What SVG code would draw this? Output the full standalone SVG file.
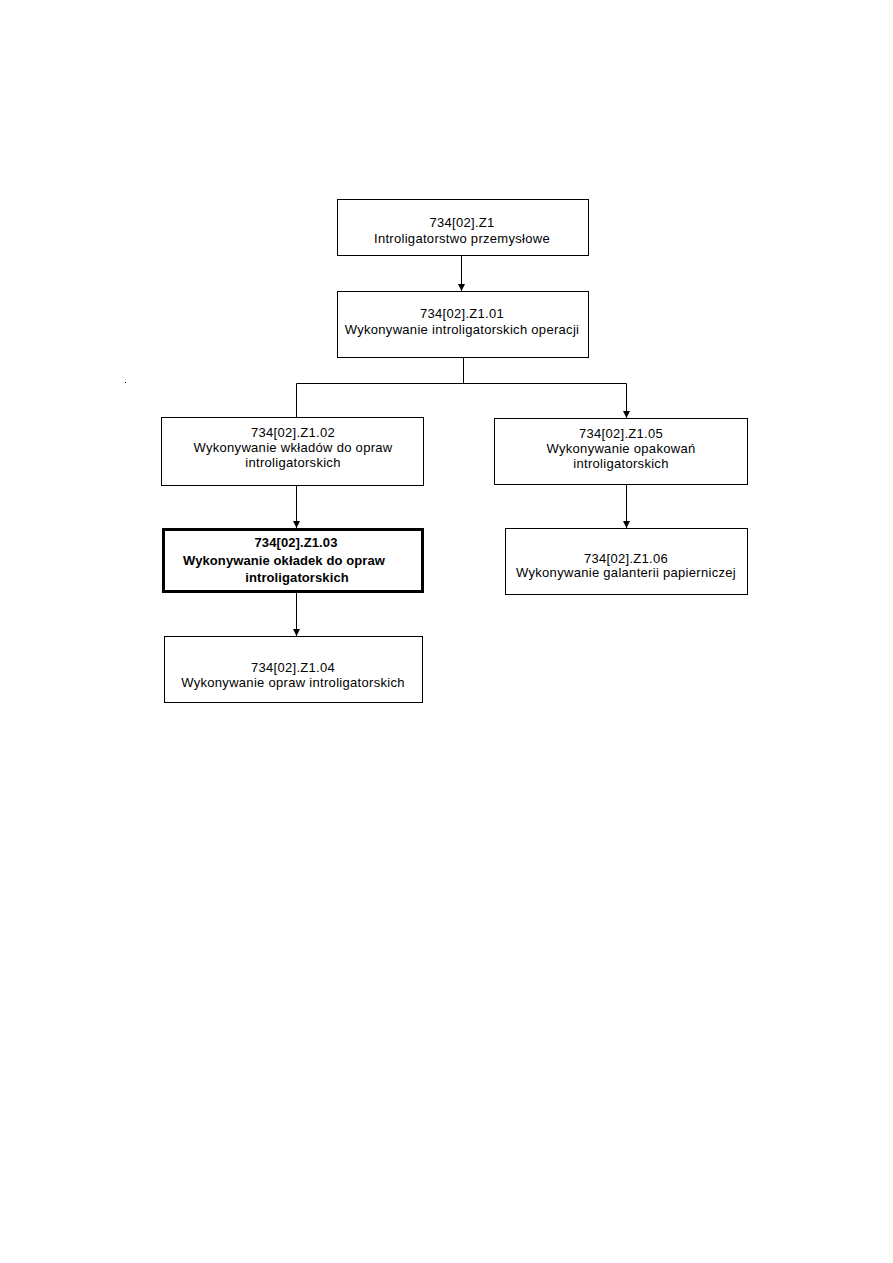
<svg xmlns="http://www.w3.org/2000/svg" width="893" height="1263" viewBox="0 0 893 1263">
<defs>
<marker id="ah" markerWidth="8" markerHeight="8" refX="7" refY="4" orient="auto" markerUnits="userSpaceOnUse" viewBox="0 0 8 8">
<path d="M0,0.5 L7,4 L0,7.5 Z" fill="#000"/>
</marker>
<style>
.box{fill:#fff;stroke:#000;stroke-width:1}
.bold{fill:#fff;stroke:#000;stroke-width:3}
.t{font-family:"Liberation Sans",Arial,sans-serif;font-size:13px;letter-spacing:0.3px;fill:#000;text-anchor:middle}
.tb{font-family:"Liberation Sans",Arial,sans-serif;font-size:13px;font-weight:bold;letter-spacing:0.1px;fill:#000;text-anchor:middle}
.c{fill:none;stroke:#000;stroke-width:1}
</style>
</defs>
<rect width="893" height="1263" fill="#fff"/>
<rect x="125" y="382" width="1" height="1" fill="#000"/>
<g id="connectors">
<line class="c" x1="461.5" y1="256" x2="461.5" y2="291" marker-end="url(#ah)"/>
<polyline class="c" points="463.5,357 463.5,383.5"/>
<polyline class="c" points="296.5,417 296.5,383.5 626.5,383.5 626.5,418" marker-end="url(#ah)"/>
<line class="c" x1="296.5" y1="485" x2="296.5" y2="528" marker-end="url(#ah)"/>
<line class="c" x1="296.5" y1="592" x2="296.5" y2="636" marker-end="url(#ah)"/>
<line class="c" x1="626.5" y1="484" x2="626.5" y2="528" marker-end="url(#ah)"/>
</g>
<g id="n1">
<rect class="box" x="337.5" y="199.5" width="251" height="56"/>
<text class="t" x="462" y="227">734[02].Z1</text>
<text class="t" x="462" y="243">Introligatorstwo przemysłowe</text>
</g>
<g id="n2">
<rect class="box" x="337.5" y="291.5" width="251" height="66"/>
<text class="t" x="462" y="318">734[02].Z1.01</text>
<text class="t" x="462" y="334">Wykonywanie introligatorskich operacji</text>
</g>
<g id="n3">
<rect class="box" x="161.5" y="417.5" width="262" height="68"/>
<text class="t" x="293" y="437">734[02].Z1.02</text>
<text class="t" x="293" y="452">Wykonywanie wkładów do opraw</text>
<text class="t" x="293" y="467">introligatorskich</text>
</g>
<g id="n4">
<rect class="bold" x="163.5" y="529.5" width="259" height="62"/>
<text class="tb" x="296" y="547">734[02].Z1.03</text>
<text class="tb" x="284" y="565">Wykonywanie okładek do opraw</text>
<text class="tb" x="297" y="582">introligatorskich</text>
</g>
<g id="n5">
<rect class="box" x="164.5" y="636.5" width="258" height="66"/>
<text class="t" x="293" y="672">734[02].Z1.04</text>
<text class="t" x="293" y="687">Wykonywanie opraw introligatorskich</text>
</g>
<g id="n6">
<rect class="box" x="494.5" y="418.5" width="253" height="66"/>
<text class="t" x="621" y="438">734[02].Z1.05</text>
<text class="t" x="621" y="453">Wykonywanie opakowań</text>
<text class="t" x="621" y="468">introligatorskich</text>
</g>
<g id="n7">
<rect class="box" x="505.5" y="528.5" width="242" height="66"/>
<text class="t" x="626" y="563">734[02].Z1.06</text>
<text class="t" x="626" y="577">Wykonywanie galanterii papierniczej</text>
</g>
</svg>
